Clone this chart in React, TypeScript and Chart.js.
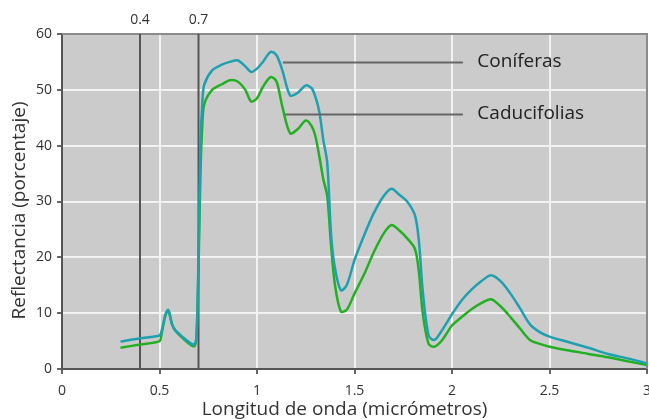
import React, { useEffect, useRef } from "react";
import { Chart, registerables } from "chart.js";

Chart.register(...registerables);

const wavelengths = [
  0.3, 0.4, 0.5, 0.51, 0.53, 0.545, 0.555, 0.565, 0.58, 0.62, 0.66, 0.68, 0.69, 0.7, 0.71, 0.72, 0.73, 0.77, 0.82, 0.86,
  0.9, 0.94, 0.97, 1.0, 1.03, 1.07, 1.1, 1.13, 1.17, 1.21, 1.25, 1.28, 1.3, 1.32, 1.34, 1.36, 1.38, 1.4, 1.43, 1.46,
  1.5, 1.55, 1.6, 1.65, 1.69, 1.73, 1.77, 1.81, 1.83, 1.85, 1.88, 1.91, 1.95, 2.0, 2.05, 2.1, 2.15, 2.2, 2.25, 2.3,
  2.35, 2.4, 2.45, 2.5, 2.6, 2.7, 2.8, 2.9, 3.0,
];

const coniferas = [
  4.9, 5.5, 6.0, 6.7, 9.7, 10.6, 9.4, 8.0, 7.0, 5.7, 4.6, 4.4, 6, 20, 40, 48, 51, 53.5, 54.5, 55,
  55.3, 54.2, 53.2, 53.8, 55.0, 56.8, 56.2, 53.5, 49, 49.5, 50.8, 50.3, 48.7, 46, 41, 37, 24, 18, 14.1, 15,
  19.5, 24, 28, 31, 32.3, 31.2, 30, 27.5, 23, 14, 6, 5.2, 7, 9.8, 12.3, 14.2, 15.7, 16.8, 15.7, 13.5,
  10.8, 8, 6.6, 5.8, 4.8, 3.8, 2.7, 1.9, 1.0,
];

const caducifolias = [
  3.8, 4.4, 5.0, 6.2, 9.5, 10.5, 9.3, 7.9, 6.9, 5.5, 4.3, 4.1, 6, 18, 35, 44, 47.5, 50, 51, 51.7,
  51.5, 50, 47.9, 48.5, 50.5, 52.3, 51.5, 47, 42.2, 43, 44.5, 43.5, 41.6, 38, 34, 31, 22, 15, 10.3, 10.6,
  13.5, 17, 21, 24.3, 25.8, 24.8, 23.4, 21.5, 17.5, 10, 4.5, 4.0, 5.2, 7.8, 9.3, 10.7, 11.8, 12.5, 11.2, 9.3,
  7.2, 5.2, 4.5, 4.0, 3.3, 2.7, 2.1, 1.4, 0.7,
];

const markerLines = [0.4, 0.7];
const markerLabels = ["0.4", "0.7"];

const seriesLabels = ["Coníferas", "Caducifolias"];
const annotationStartX = [1.133, 1.144];
const annotationEndX = [2.056, 2.056];
const annotationY = [54.9, 45.6];
const annotationTextX = [2.13, 2.13];

const xTitle = "Longitud de onda (micrómetros)";
const yTitle = "Reflectancia (porcentaje)";

const FONT = "'Open Sans', 'DejaVu Sans', sans-serif";

const decorPlugin = {
  id: "decor",
  beforeDraw(chart: any) {
    const { ctx, chartArea } = chart;
    ctx.save();
    ctx.fillStyle = "#cbcbcb";
    ctx.fillRect(chartArea.left, chartArea.top, chartArea.right - chartArea.left, chartArea.bottom - chartArea.top);
    ctx.restore();
  },
  beforeDatasetsDraw(chart: any) {
    const { ctx, chartArea, scales } = chart;
    ctx.save();
    ctx.strokeStyle = "#8a8a8a";
    ctx.lineWidth = 2;
    ctx.beginPath();
    ctx.moveTo(chartArea.left, chartArea.top);
    ctx.lineTo(chartArea.right, chartArea.top);
    ctx.lineTo(chartArea.right, chartArea.bottom);
    ctx.stroke();
    ctx.strokeStyle = "#555555";
    ctx.lineWidth = 2;
    ctx.fillStyle = "#333333";
    ctx.font = `14px ${FONT}`;
    ctx.textAlign = "center";
    ctx.textBaseline = "alphabetic";
    markerLines.forEach((v, i) => {
      const x = scales.x.getPixelForValue(v);
      ctx.beginPath();
      ctx.moveTo(x, chartArea.top);
      ctx.lineTo(x, chartArea.bottom);
      ctx.stroke();
      ctx.fillText(markerLabels[i], x, chartArea.top - 10);
    });
    ctx.restore();
  },
  afterDatasetsDraw(chart: any) {
    const { ctx, scales } = chart;
    ctx.save();
    ctx.strokeStyle = "#666666";
    ctx.lineWidth = 2;
    ctx.fillStyle = "#222222";
    ctx.font = `19px ${FONT}`;
    ctx.textAlign = "left";
    ctx.textBaseline = "alphabetic";
    seriesLabels.forEach((label, i) => {
      const y = scales.y.getPixelForValue(annotationY[i]);
      ctx.beginPath();
      ctx.moveTo(scales.x.getPixelForValue(annotationStartX[i]), y);
      ctx.lineTo(scales.x.getPixelForValue(annotationEndX[i]), y);
      ctx.stroke();
      ctx.fillText(label, scales.x.getPixelForValue(annotationTextX[i]), y + 4.5);
    });
    ctx.restore();
  },
  afterDraw(chart: any) {
    const { ctx, chartArea } = chart;
    ctx.save();
    ctx.fillStyle = "#333333";
    ctx.font = `19px ${FONT}`;
    ctx.textAlign = "center";
    ctx.textBaseline = "alphabetic";
    ctx.fillText(xTitle, (chartArea.left + chartArea.right) / 2 - 10, chartArea.bottom + 46);
    ctx.translate(25, (chartArea.top + chartArea.bottom) / 2 + 9);
    ctx.rotate(-Math.PI / 2);
    ctx.fillText(yTitle, 0, 0);
    ctx.restore();
  },
};

export default function App() {
  const ref = useRef<HTMLCanvasElement>(null);
  useEffect(() => {
    if (!ref.current) return;
    const chart = new Chart(ref.current, {
      type: "line",
      data: {
        datasets: [
          {
            label: seriesLabels[0],
            data: wavelengths.map((x, i) => ({ x, y: coniferas[i] })),
            borderColor: "#1fa0b0",
            borderWidth: 2.5,
            pointRadius: 0,
            tension: 0.3,
            fill: false,
          },
          {
            label: seriesLabels[1],
            data: wavelengths.map((x, i) => ({ x, y: caducifolias[i] })),
            borderColor: "#22b022",
            borderWidth: 2.5,
            pointRadius: 0,
            tension: 0.3,
            fill: false,
          },
        ],
      },
      options: {
        responsive: false,
        animation: false,
        layout: { padding: { top: 34, right: 2, left: 0, bottom: 0 } },
        plugins: { legend: { display: false }, tooltip: { enabled: false } },
        scales: {
          x: {
            type: "linear",
            min: 0,
            max: 3,
            afterFit: (s: any) => {
              s.height = 50;
              s.paddingLeft = 0;
              s.paddingRight = 0;
            },
            ticks: {
              stepSize: 0.5,
              color: "#333333",
              font: { family: FONT, size: 14 },
              padding: 9,
              maxRotation: 0,
              callback: (v: any) => String(Number(v)),
            },
            grid: { color: "#f2f2f2", lineWidth: 2, tickColor: "#666666", tickLength: 5 },
            border: { display: true, color: "#555555", width: 2 },
          },
          y: {
            min: 0,
            max: 60,
            afterFit: (s: any) => {
              s.width = 62;
            },
            ticks: {
              stepSize: 10,
              color: "#333333",
              font: { family: FONT, size: 14 },
              padding: 5,
            },
            grid: { color: "#f2f2f2", lineWidth: 2, tickColor: "#666666", tickLength: 5 },
            border: { display: true, color: "#555555", width: 2 },
          },
        },
      },
      plugins: [decorPlugin],
    });
    return () => chart.destroy();
  }, []);
  return (
    <div style={{ position: "fixed", left: 0, top: 0, width: 649, height: 419 }}>
      <canvas ref={ref} width={649} height={419} />
    </div>
  );
}
